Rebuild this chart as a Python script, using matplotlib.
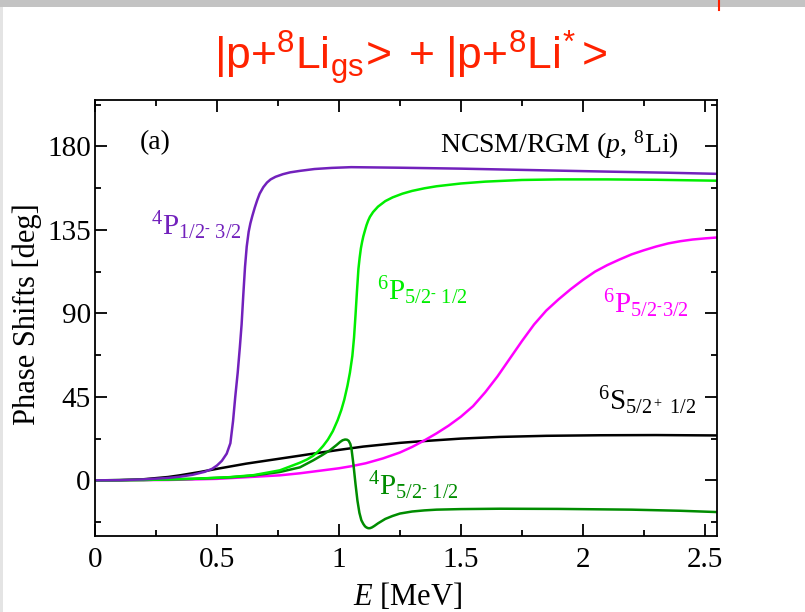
import matplotlib
matplotlib.use("Agg")
import matplotlib.pyplot as plt
from matplotlib.patches import Rectangle
from matplotlib.lines import Line2D
from matplotlib.ticker import MultipleLocator

plt.rcParams['font.family'] = ['Liberation Serif', 'DejaVu Serif']
plt.rcParams['mathtext.fontset'] = 'custom'
plt.rcParams['mathtext.rm'] = 'Liberation Serif'
plt.rcParams['mathtext.it'] = 'Liberation Serif:italic'
plt.rcParams['mathtext.sf'] = 'Liberation Sans'

# phase shifts (E in MeV, delta in deg)
e_p4_12 = [0, 0.1, 0.2, 0.3, 0.35, 0.4, 0.45, 0.48, 0.5, 0.52, 0.54, 0.555, 0.566, 0.575,
           0.585, 0.594, 0.601, 0.608, 0.615, 0.622, 0.63, 0.637, 0.645, 0.655, 0.665,
           0.675, 0.69, 0.705, 0.72, 0.74, 0.77, 0.8, 0.84, 0.9, 0.97, 1.05, 1.25, 1.5,
           1.8, 2.1, 2.35, 2.55]
d_p4_12 = [0, 0.1, 0.5, 1.3, 2.0, 3.0, 4.6, 6.2, 8.0, 10.5, 14.4, 20, 32, 45,
           58, 72, 84, 100, 115, 126, 134, 138.5, 142.5, 147, 151,
           154.5, 158, 160.5, 162.2, 163.6, 165, 166, 166.8, 167.8, 168.4, 168.8, 168.5, 168,
           167.2, 166.4, 165.8, 165.2]

e_p6_51 = [0, 0.2, 0.4, 0.55, 0.65, 0.758, 0.84, 0.87, 0.895, 0.915, 0.935, 0.955, 0.975,
           0.995, 1.01, 1.022, 1.035, 1.045, 1.055, 1.062, 1.068, 1.074, 1.08, 1.085,
           1.09, 1.095, 1.1, 1.107, 1.113, 1.12, 1.127, 1.14, 1.16, 1.19, 1.22, 1.26, 1.3,
           1.35, 1.4, 1.5, 1.6, 1.75, 1.9, 2.1, 2.3, 2.55]
d_p6_51 = [0, 0.2, 0.8, 1.7, 2.8, 5.4, 9.5, 11.3, 13.3, 15.6, 18.5, 22, 26.5,
           32.5, 38, 43.5, 51, 58, 67, 77, 89, 102, 114, 120,
           125, 128.5, 131.5, 134.8, 137.5, 140, 142, 144.6, 147.5, 150.5, 152.5, 154.5, 156,
           157.4, 158.5, 160, 161, 161.9, 162.2, 162.2, 162, 161.5]

e_p4_51 = [0, 0.2, 0.4, 0.55, 0.65, 0.758, 0.84, 0.895, 0.93, 0.963, 0.99, 1.005, 1.015,
           1.025, 1.033, 1.04, 1.047, 1.052, 1.06, 1.068, 1.076, 1.084, 1.092, 1.1, 1.107,
           1.113, 1.12, 1.127, 1.135, 1.145, 1.16, 1.175, 1.19, 1.22, 1.25, 1.3, 1.35,
           1.4, 1.5, 1.66, 1.9, 2.2, 2.4, 2.55]
d_p4_51 = [0, 0.2, 0.8, 1.6, 2.6, 4.5, 7, 10.8, 13.5, 16.2, 19, 20.7, 21.6,
           22, 21.9, 21.3, 19.5, 16.5, 8, -2, -11, -17.5, -21.5, -23.5, -24.8,
           -25.4, -25.8, -25.8, -25.4, -24.6, -23.2, -22, -20.8, -19.2, -17.9, -16.8, -16.2,
           -15.8, -15.5, -15.3, -15.4, -15.8, -16.4, -17.1]

e_s6 = [0, 0.1, 0.2, 0.3, 0.348, 0.43, 0.5, 0.62, 0.758, 0.84, 0.895, 1.0, 1.1, 1.25,
        1.33, 1.5, 1.66, 1.85, 2.07, 2.3, 2.55]
d_s6 = [0, 0.1, 0.6, 1.8, 2.7, 4.5, 6.2, 9, 11.7, 13.3, 14.4, 16.4, 18.2, 20.2,
        21, 22.5, 23.4, 24, 24.3, 24.4, 24.2]

e_p6_53 = [0, 0.3, 0.5, 0.758, 0.84, 1.0, 1.05, 1.11, 1.18, 1.25, 1.3, 1.35, 1.4, 1.45,
           1.5, 1.55, 1.6, 1.65, 1.7, 1.75, 1.8, 1.85, 1.9, 1.95, 2.0, 2.05, 2.1, 2.15,
           2.2, 2.25, 2.3, 2.35, 2.4, 2.45, 2.5, 2.55]
d_p6_53 = [0, 0.2, 0.8, 2.7, 3.8, 6.5, 7.6, 9.2, 11.8, 15, 18, 21.5, 25.3, 29.5,
           34.3, 40, 47.5, 56, 65.5, 75, 84, 91.5, 97.5, 103, 108, 112.5, 116, 119,
           121.8, 124, 126, 127.7, 128.9, 129.8, 130.4, 130.9]

x_ticks = [0, 0.5, 1, 1.5, 2, 2.5]
x_ticklabels = ['0', '0.5', '1', '1.5', '2', '2.5']
y_ticks = [0, 45, 90, 135, 180]

INDIGO = '#7221bc'
GREEN = '#00ee00'
DKGREEN = '#008c00'
MAGENTA = '#ff00ff'

fig = plt.figure(figsize=(8.05, 6.12), dpi=100)
fig.patch.set_facecolor('white')

# window chrome around the slide
fig.add_artist(Rectangle((0, 1 - 7 / 612), 1, 7 / 612, transform=fig.transFigure,
                         color='#c3c3c3', lw=0))
fig.add_artist(Rectangle((0, 0), 3 / 805, 1 - 7 / 612, transform=fig.transFigure,
                         color='#e4e4e4', lw=0))
fig.add_artist(Line2D([719 / 805, 719 / 805], [1, 1 - 10 / 612], transform=fig.transFigure,
                      color='#ff2000', lw=1.5))

fig.text(411 / 805, 1 - 70 / 612,
         r'$\mathsf{|p{+}^8Li_{gs}\!>\ {+}\ |p{+}^8Li^{\!*}\!>}$',
         color='#ff2200', fontsize=32, ha='center', va='baseline')

ax = fig.add_axes([95 / 805, 76 / 612, 622 / 805, 436 / 612])

ax.plot(e_s6, d_s6, color='black', lw=1.8)
ax.plot(e_p6_53, d_p6_53, color=MAGENTA, lw=1.8)
ax.plot(e_p4_51, d_p4_51, color=DKGREEN, lw=1.8)
ax.plot(e_p6_51, d_p6_51, color=GREEN, lw=1.8)
ax.plot(e_p4_12, d_p4_12, color=INDIGO, lw=1.8)

ax.set_xlim(0, 2.55)
ax.set_ylim(-30, 205)
ax.set_xticks(x_ticks)
ax.set_xticklabels(x_ticklabels)
ax.set_yticks(y_ticks)
ax.xaxis.set_minor_locator(MultipleLocator(0.25))
ax.yaxis.set_minor_locator(MultipleLocator(22.5))
ax.tick_params(which='both', direction='in', top=True, right=True, width=1.3)
ax.tick_params(which='major', length=8.5, labelsize=21)
ax.tick_params(axis='x', which='major', pad=8)
ax.tick_params(axis='y', which='major', pad=3)
ax.tick_params(which='minor', length=4.5)
for s in ax.spines.values():
    s.set_linewidth(1.3)

ax.set_xlabel(r'$E$ [MeV]', fontsize=22)
ax.set_ylabel('Phase Shifts [deg]', fontsize=22)
ax.xaxis.set_label_coords(0.502, -0.103)
ax.yaxis.set_label_coords(-0.085, 0.51)

ax.text(0.246, 182, '(a)', fontsize=20, ha='center', va='center')
ax.text(1.414, 176.7, r'NCSM/RGM ($p$, $^8$Li)', fontsize=20, ha='left', va='baseline')

ax.text(0.23, 132.3, r'$^4\mathrm{P}_{1/2^{\text{-}}\ 3/2}$', color=INDIGO, fontsize=21,
        ha='left', va='baseline')
ax.text(1.155, 97.2, r'$^6\mathrm{P}_{5/2^{\text{-}}\ 1/2}$', color=GREEN, fontsize=21,
        ha='left', va='baseline')
ax.text(2.082, 90, r'$^6\mathrm{P}_{5/2^{\text{-}}3/2}$', color=MAGENTA, fontsize=21,
        ha='left', va='baseline')
ax.text(2.061, 37.8, r'$^6\mathrm{S}_{5/2^+\ 1/2}$', color='black', fontsize=21,
        ha='left', va='baseline')
ax.text(1.12, -8.1, r'$^4\mathrm{P}_{5/2^{\text{-}}\ 1/2}$', color=DKGREEN, fontsize=21,
        ha='left', va='baseline')

fig.savefig('out.png', dpi=100)
